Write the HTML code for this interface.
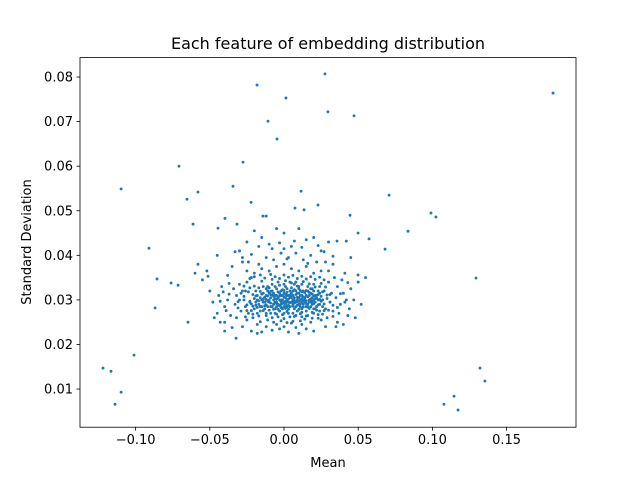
<!DOCTYPE html>
<html><head><meta charset="utf-8"><style>
body{margin:0;background:#fff;}
svg{display:block;font-family:"DejaVu Sans","Liberation Sans",sans-serif;}
</style></head><body>
<svg id="chart" width="640" height="480">
<rect width="640" height="480" fill="#fff"/>
<text x="328" y="49" text-anchor="middle" font-size="16">Each feature of embedding distribution</text>
<g id="marks"></g>
<rect x="80" y="57.6" width="496" height="369.6" fill="none" stroke="#000" stroke-width="0.8"/>
<g id="xticks"></g>
<g id="yticks"></g>
<text x="328" y="467" text-anchor="middle" font-size="13">Mean</text>
<text transform="translate(31,242) rotate(-90)" text-anchor="middle" font-size="13">Standard Deviation</text>
</svg>
<script>
const xTicks=[-0.10,-0.05,0.00,0.05,0.10,0.15];
const xTickLabels=["−0.10","−0.05","0.00","0.05","0.10","0.15"];
const yTicks=[0.01,0.02,0.03,0.04,0.05,0.06,0.07,0.08];
const yTickLabels=["0.01","0.02","0.03","0.04","0.05","0.06","0.07","0.08"];
const outlierMeans=[0.1813,0.0276,-0.0182,0.0013,-0.0108,0.0296,0.0472,-0.0047,-0.0276,-0.0708,-0.0580,-0.0654,-0.1098,-0.0344,0.0115,0.0708,-0.0613,-0.0222,0.0991,0.1024,0.0836,0.0445,0.0499,0.0573,0.0681,-0.0910,-0.0856,-0.0761,-0.0714,-0.0869,-0.0647,-0.0323,0.1294,-0.1011,-0.1220,-0.1166,-0.1098,-0.1139,0.1321,0.1354,0.1146,0.1078,0.1173,0.0499,-0.0445,-0.0398,-0.0317,-0.0142,-0.0120,0.0074,0.0135,0.0229,0.0357,0.0420,-0.0512];
const outlierStds=[0.0764,0.0807,0.0782,0.0753,0.0701,0.0722,0.0713,0.0661,0.0609,0.0600,0.0542,0.0526,0.0549,0.0555,0.0544,0.0535,0.0470,0.0519,0.0495,0.0486,0.0454,0.0490,0.0450,0.0437,0.0414,0.0416,0.0347,0.0338,0.0333,0.0282,0.0250,0.0214,0.0349,0.0176,0.0147,0.0140,0.0093,0.0066,0.0147,0.0118,0.0084,0.0066,0.0053,0.0356,0.0461,0.0483,0.0470,0.0488,0.0488,0.0506,0.0502,0.0513,0.0432,0.0432,0.0353];
const clusterMeansMilli=[-18,-15,-12,-10,-8,-6,-4,-2,0,2,4,6,8,10,12,14,16,18,20,22,-19,-16,-13,-11,-9,-7,-5,-3,-1,1,3,5,7,9,11,13,15,17,19,21,-17,-14,-12,-9,-6,-3,0,3,6,9,12,15,18,21,24,-20,-18,-15,-11,-8,-5,-2,1,4,7,10,13,16,19,23,-16,-13,-10,-7,-4,-1,2,5,8,11,14,17,20,24,-14,-10,-6,-2,2,6,10,14,18,22,-12,-8,-4,0,4,8,12,16,20,24,-12,-8,-4,0,4,8,12,16,20,24,-1,1,3,-3,5,-5,7,-7,9,11,-30,-28,-26,-25,-24,-22,-21,-30,-33,-32,-27,-23,-29,-26,-34,26,27,28,30,31,32,33,35,36,38,29,27,34,37,40,-20,-15,-10,-5,0,5,10,15,20,25,-25,30,-17,-7,3,13,22,-12,8,-2,0,5,-8,18,-18,-12,-5,0,5,12,18,25,-25,-8,3,15,-15,8,-38,-40,-42,-44,-36,-45,-48,42,44,45,47,43,39,41,-38,-35,-32,-40,36,40,33,28,-28,-22,-18,20,10,-3,28,-28,-19,-16,-11,-9,-5,-2,0,2,4,6,8,10,12,15,17,19,21,23,-14,-6,2,10,18,0,6,-6,12,-18,20,-50,-55,-52,-58,-60,-47,-43,-40,-45,50,55,52,48,45,-30,25,35,-35,15,-15,-20,0,10,20,-5,30,-25,
-23,-21,-19,-17,-14,-13,-11,-9,-8,-7,-6,-4,-3,-2,-1,0,1,2,3,4,5,6,7,8,9,10,11,12,13,14,15,16,17,18,19,20,22,23,25,26,
-22,-20,-17,-15,-12,-10,-8,-5,-3,-1,1,3,5,7,9,11,13,15,17,19,21,23,25,27,29,
-24,-22,-20,-18,-16,-14,-12,-10,-9,-7,-5,-4,-2,0,1,2,4,6,7,9,10,12,13,15,16,18,20,22,24,26,
-27,-25,-23,-21,-19,-17,-15,-13,-11,-9,-7,-5,-3,-1,1,3,5,7,9,11,13,15,17,19,21,23,25,27,29,
-31,-29,-27,-25,-23,-20,-16,-13,-9,-6,-3,0,3,6,9,12,15,18,21,24,28,31,33,30,-31,
-16,-11,-7,-2,2,6,11,14,19,-21,-26,23,26,33,36,38,41,43,-41,-37,-43,-39,-37,
-28,-22,-10,-3,7,12,23,27,33,-33,-17,2,16,-24];
const clusterStdsTenK=[300,285,310,295,320,280,305,290,315,300,285,310,295,325,280,305,290,315,300,285,320,275,295,330,270,300,325,275,300,330,270,295,335,275,300,320,275,300,325,310,290,315,270,305,295,315,285,310,290,315,295,310,285,295,315,280,310,300,285,285,310,320,290,320,280,305,290,320,290,300,305,280,315,290,290,280,310,305,320,285,295,310,320,290,295,300,310,300,295,300,290,300,295,310,325,335,340,335,340,340,335,330,335,330,265,260,262,258,262,265,262,265,270,275,310,305,295,300,315,295,305,315,300,310,300,320,285,340,270,350,260,335,290,310,300,295,275,320,325,300,320,280,340,295,315,275,305,330,290,260,345,350,270,315,360,370,365,375,380,370,365,375,360,365,365,365,380,390,395,390,385,395,405,405,415,420,415,400,245,240,245,240,248,245,250,255,255,232,228,235,228,238,300,285,330,310,265,270,295,300,280,325,300,265,345,360,355,375,260,250,250,245,380,385,385,230,225,230,225,235,240,240,295,285,320,285,285,310,295,285,305,320,285,315,310,285,295,305,280,320,330,330,325,330,325,270,270,270,272,270,280,320,345,365,380,360,260,250,230,400,340,350,290,260,395,410,410,240,238,435,440,455,450,460,440,460,430,430,
297,312,288,327,302,287,309,293,311,279,303,318,287,296,323,306,281,317,302,294,327,286,299,312,288,297,321,303,284,316,298,307,281,302,313,292,304,289,308,285,
276,331,264,342,289,277,346,268,333,267,343,279,338,263,331,269,341,264,336,272,329,267,337,276,311,
318,291,303,283,319,276,301,327,312,291,302,279,283,321,297,274,311,296,323,306,279,318,299,321,284,297,309,277,301,318,
308,289,327,286,309,298,313,306,297,319,308,292,309,292,312,288,309,293,296,291,307,292,317,297,303,312,297,291,303,
282,315,331,276,348,352,356,349,357,352,348,356,351,355,348,353,347,352,346,351,329,312,288,277,296,
251,255,250,253,249,252,253,257,259,268,262,259,268,263,283,314,295,339,318,337,297,276,313,
395,402,425,428,432,418,422,408,398,408,420,392,382,385];
const X0=80,X1=576,Y0=427.2,Y1=57.6,XMIN=-0.1375,XMAX=0.1968,YMIN=0.00144,YMAX=0.08436;
function sx(v){return X0+(v-XMIN)/(XMAX-XMIN)*(X1-X0);}
function sy(v){return Y0-(v-YMIN)/(YMAX-YMIN)*(Y0-Y1);}
const NS="http://www.w3.org/2000/svg";
const marks=document.getElementById('marks');
function dot(x,y){
  const c=document.createElementNS(NS,'circle');
  c.setAttribute('cx',sx(x).toFixed(2));c.setAttribute('cy',sy(y).toFixed(2));
  c.setAttribute('r','1.45');c.setAttribute('fill','#1f77b4');
  
  
  marks.appendChild(c);
}
for(let i=0;i<outlierMeans.length;i++)dot(outlierMeans[i],outlierStds[i]);
const n=Math.min(clusterMeansMilli.length,clusterStdsTenK.length);
for(let i=0;i<n;i++)dot(clusterMeansMilli[i]/1000,clusterStdsTenK[i]/10000);
const xg=document.getElementById('xticks');
xTicks.forEach((t,i)=>{
  const x=sx(t);
  const l=document.createElementNS(NS,'line');
  l.setAttribute('x1',x);l.setAttribute('x2',x);l.setAttribute('y1',Y0);l.setAttribute('y2',Y0+3.5);
  l.setAttribute('stroke','#000');l.setAttribute('stroke-width','0.8');
  
  
  xg.appendChild(l);
  const tx=document.createElementNS(NS,'text');
  tx.setAttribute('x',x);tx.setAttribute('y',Y0+17);tx.setAttribute('text-anchor','middle');tx.setAttribute('font-size','13');
  tx.textContent=xTickLabels[i];
  
  
  xg.appendChild(tx);
});
const yg=document.getElementById('yticks');
yTicks.forEach((t,i)=>{
  const y=sy(t);
  const l=document.createElementNS(NS,'line');
  l.setAttribute('x1',X0-3.5);l.setAttribute('x2',X0);l.setAttribute('y1',y);l.setAttribute('y2',y);
  l.setAttribute('stroke','#000');l.setAttribute('stroke-width','0.8');
  
  
  yg.appendChild(l);
  const tx=document.createElementNS(NS,'text');
  tx.setAttribute('x',X0-7);tx.setAttribute('y',y+4.5);tx.setAttribute('text-anchor','end');tx.setAttribute('font-size','13');
  tx.textContent=yTickLabels[i];
  
  
  yg.appendChild(tx);
});
</script>
</body></html>
